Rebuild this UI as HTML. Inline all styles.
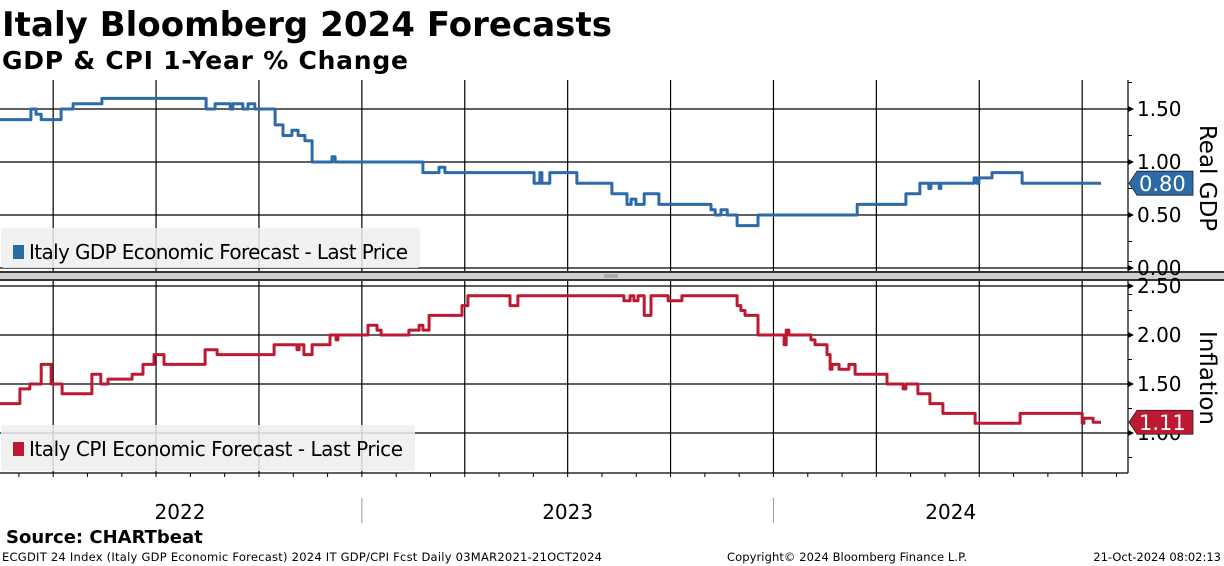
<!DOCTYPE html>
<html><head><meta charset="utf-8"><style>
html,body{margin:0;padding:0;background:#fff;}
body{width:1224px;height:566px;overflow:hidden;font-family:"Liberation Sans","DejaVu Sans",sans-serif;}
svg{display:block;}
</style></head><body>
<svg id="chart" width="1224" height="566" viewBox="0 0 1224 566" xmlns="http://www.w3.org/2000/svg">
<text x="2" y="36" font-size="34" font-weight="bold" font-family="DejaVu Sans, sans-serif" fill="#000" textLength="610">Italy Bloomberg 2024 Forecasts</text>
<text x="2" y="69" font-size="25" font-weight="bold" font-family="DejaVu Sans, sans-serif" fill="#000" textLength="406">GDP &amp; CPI 1-Year % Change</text>
<g id="grid"></g>
<rect x="0" y="271" width="1224" height="10" fill="#d0d0d0"/>
<line x1="0" y1="272" x2="1224" y2="272" stroke="#333" stroke-width="2"/>
<line x1="0" y1="280" x2="1224" y2="280" stroke="#333" stroke-width="2"/>
<line x1="604" y1="275" x2="618" y2="275" stroke="#888"/><line x1="604" y1="277" x2="618" y2="277" stroke="#888"/>
<g id="series"></g>
<g>
<rect x="1" y="228" width="419" height="40" rx="3" fill="#eeeeee" fill-opacity="0.85"/>
<rect x="13" y="245" width="11" height="14" fill="#2d6aa8"/>
<text x="29" y="259" font-size="20" font-family="DejaVu Sans, sans-serif" fill="#000" textLength="379">Italy GDP Economic Forecast - Last Price</text>
</g>
<g>
<rect x="1" y="425" width="414" height="46" rx="3" fill="#eeeeee" fill-opacity="0.85"/>
<rect x="13" y="442" width="11" height="14" fill="#bb1a32"/>
<text x="29" y="456" font-size="20" font-family="DejaVu Sans, sans-serif" fill="#000" textLength="374">Italy CPI Economic Forecast - Last Price</text>
</g>
<g id="axes"></g>
<text transform="translate(1200,178) rotate(90)" text-anchor="middle" font-size="23" font-family="DejaVu Sans, sans-serif" fill="#000">Real GDP</text>
<text transform="translate(1200,378) rotate(90)" text-anchor="middle" font-size="23" font-family="DejaVu Sans, sans-serif" fill="#000">Inflation</text>
<text x="6" y="543" font-size="18" font-weight="bold" font-family="DejaVu Sans, sans-serif">Source: CHARTbeat</text>
<text x="2" y="561" font-size="11.5" font-family="DejaVu Sans, sans-serif" textLength="600">ECGDIT 24 Index (Italy GDP Economic Forecast) 2024 IT GDP/CPI Fcst  Daily 03MAR2021-21OCT2024</text>
<text x="727" y="561" font-size="11.5" font-family="DejaVu Sans, sans-serif" textLength="240">Copyright© 2024 Bloomberg Finance L.P.</text>
<text x="1221" y="561" text-anchor="end" font-size="11.5" font-family="DejaVu Sans, sans-serif">21-Oct-2024 08:02:13</text>
</svg>
<script>
// time in months since 2022-01-01; values in %
const gdpTimes=[1.45,2.35,2.50,2.65,3.23,3.58,4.42,7.46,7.72,8.16,8.24,8.53,8.68,8.88,9.47,9.70,9.96,10.14,10.34,10.55,11.13,11.22,13.78,14.25,14.42,17.02,17.19,17.25,17.48,18.27,19.29,19.73,19.85,19.99,20.23,20.66,22.18,22.30,22.47,22.65,22.94,23.55,26.44,27.86,28.27,28.53,28.59,28.83,28.88,29.85,29.93,29.99,30.37,31.25,33.55];
const gdpValues=[1.40,1.50,1.45,1.40,1.50,1.55,1.60,1.50,1.55,1.50,1.55,1.50,1.55,1.50,1.35,1.25,1.30,1.25,1.20,1.00,1.05,1.00,0.90,0.95,0.90,0.80,0.90,0.80,0.90,0.80,0.70,0.60,0.65,0.60,0.70,0.60,0.55,0.50,0.55,0.50,0.40,0.50,0.60,0.70,0.80,0.75,0.80,0.75,0.80,0.85,0.80,0.85,0.90,0.80,0.80];
const cpiTimes=[1.45,2.03,2.32,2.65,2.94,3.26,4.13,4.39,4.60,5.30,5.62,5.94,6.23,7.43,7.78,9.44,10.11,10.17,10.31,10.55,11.07,11.25,11.30,12.18,12.44,12.56,13.37,13.67,13.78,13.96,14.92,15.09,16.32,16.55,19.64,19.82,19.93,20.05,20.23,20.43,20.93,21.33,22.94,23.05,23.17,23.55,24.31,24.37,24.45,25.09,25.21,25.56,25.65,25.71,25.91,26.20,26.38,27.31,27.78,27.86,28.21,28.56,28.94,29.88,31.19,33.00,33.05,33.32,33.55];
const cpiValues=[1.30,1.45,1.50,1.70,1.50,1.40,1.60,1.50,1.55,1.60,1.70,1.80,1.70,1.85,1.80,1.90,1.85,1.90,1.80,1.90,2.00,1.95,2.00,2.10,2.05,2.00,2.05,2.10,2.05,2.20,2.30,2.40,2.30,2.40,2.35,2.40,2.35,2.40,2.20,2.40,2.35,2.40,2.30,2.25,2.20,2.00,1.90,2.05,2.00,1.95,1.90,1.80,1.65,1.70,1.65,1.70,1.60,1.50,1.45,1.50,1.40,1.30,1.20,1.10,1.20,1.10,1.15,1.11,1.11];
const gdpTicks=[0.00,0.50,1.00,1.50];
const cpiTicks=[1.00,1.50,2.00,2.50];
const yearLabels=["2022","2023","2024"];
const yearStarts=[0,12,24];
const gdpLast=0.80, cpiLast=1.11;

const NS="http://www.w3.org/2000/svg";
const X0=1.45, PXM=34.3, RIGHT=1128;
const xS=m=>(m-X0)*PXM;
const yG=v=>268-v*106;
const yC=v=>433-(v-1)*98;
function mk(tag,attrs,parent){const e=document.createElementNS(NS,tag);for(const k in attrs)e.setAttribute(k,attrs[k]);parent.appendChild(e);return e;}
const grid=document.getElementById('grid'),axes=document.getElementById('axes'),series=document.getElementById('series');

for(let m=3;m<=36;m+=3){const x=xS(m);if(x<0||x>RIGHT)continue;
 const l1=mk('line',{x1:x,y1:80,x2:x,y2:271,stroke:'#000','stroke-width':1.2},grid);
 
 
 const l2=mk('line',{x1:x,y1:281,x2:x,y2:473,stroke:'#000','stroke-width':1.2},grid);
 
 }
gdpTicks.forEach(v=>{const l=mk('line',{x1:0,y1:yG(v),x2:RIGHT,y2:yG(v),stroke:'#000','stroke-width':1.2},grid);
 
 });
cpiTicks.forEach(v=>{const l=mk('line',{x1:0,y1:yC(v),x2:RIGHT,y2:yC(v),stroke:'#000','stroke-width':1.2},grid);
 
 });

function stepPath(ts,vs,ys){let d='';for(let i=0;i<ts.length;i++){const x=xS(ts[i]).toFixed(1),y=ys(vs[i]).toFixed(1);
 if(i===0)d+=`M${x},${y}`;else d+=`L${x},${ys(vs[i-1]).toFixed(1)}L${x},${y}`;}return d;}
const gp=mk('path',{d:stepPath(gdpTimes,gdpValues,yG),fill:'none',stroke:'#2d6aa8','stroke-width':3,'stroke-linejoin':'round'},series);


const cp=mk('path',{d:stepPath(cpiTimes,cpiValues,yC),fill:'none',stroke:'#bb1a32','stroke-width':3,'stroke-linejoin':'round'},series);



mk('line',{x1:RIGHT,y1:80,x2:RIGHT,y2:271,stroke:'#000','stroke-width':1.2},axes);
mk('line',{x1:RIGHT,y1:281,x2:RIGHT,y2:473,stroke:'#000','stroke-width':1.2},axes);
function yTicks(ticks,ys,name,lo,hi){
 ticks.forEach(v=>{const y=ys(v);
  mk('path',{d:`M${RIGHT},${y-3}L${RIGHT+6},${y}L${RIGHT},${y+3}Z`,fill:'#000'},axes);
  const t=mk('text',{x:RIGHT+9,y:y+7,'font-size':20,'font-family':'DejaVu Sans, sans-serif',fill:'#000'},axes);
  t.textContent=v.toFixed(2);
  
  });
 for(let v=lo;v<=hi+1e-9;v+=0.5){const y=ys(v+0.25);mk('line',{x1:RIGHT,y1:y,x2:RIGHT+4,y2:y,stroke:'#000'},axes);}
}
yTicks(gdpTicks,yG,'gdp',-0.5,1.5);
yTicks(cpiTicks,yC,'cpi',0.5,2.5);
function badge(v,ys,color,name){const y=ys(v);
 const g=mk('g',{},axes);
 
 
 mk('path',{d:`M${RIGHT+1},${y}L${RIGHT+9},${y-12}L${RIGHT+65},${y-12}L${RIGHT+65},${y+12}L${RIGHT+9},${y+12}Z`,fill:color,stroke:'#222','stroke-width':0.8},g);
 const t=mk('text',{x:RIGHT+11,y:y+8,'font-size':21,'font-family':'DejaVu Sans, sans-serif',fill:'#fff'},g);t.textContent=v.toFixed(2);}
badge(gdpLast,yG,'#2d6aa8','gdp-last-value-badge');
badge(cpiLast,yC,'#bb1a32','cpi-last-value-badge');

mk('line',{x1:0,y1:473,x2:RIGHT,y2:473,stroke:'#000','stroke-width':1.2},axes);
for(let m=2;m<=34;m++){const x=xS(m);if(x<0||x>RIGHT)continue;mk('line',{x1:x,y1:473,x2:x,y2:477,stroke:'#000'},axes);}
yearLabels.forEach((lab,i)=>{const s=yearStarts[i];
 const xs=xS(s);if(xs>0){const l=mk('line',{x1:xs,y1:498,x2:xs,y2:523,stroke:'#999'},axes);
  
  }
 const xc=(Math.max(0,xS(s))+Math.min(xS(s+12),RIGHT))/2;
 const cx=i===0?180:xc;
 const t=mk('text',{x:cx,y:519,'text-anchor':'middle','font-size':20,'font-family':'DejaVu Sans, sans-serif',fill:'#000'},axes);
 t.textContent=lab;
 
 });
</script>
</body></html>
